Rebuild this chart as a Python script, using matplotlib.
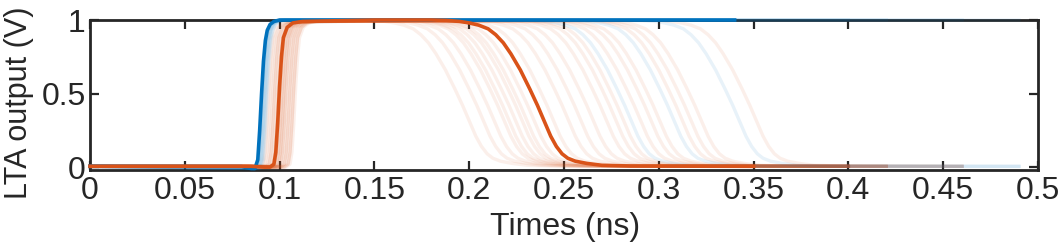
import numpy as np
import matplotlib
matplotlib.use('Agg')
import matplotlib.pyplot as plt

plt.rcParams['font.family'] = ['Liberation Sans', 'DejaVu Sans']

# highlighted blue trace (time in ns, volts)
blue_t = [0.0, 0.080, 0.085, 0.087, 0.0885, 0.0895, 0.0905, 0.0915, 0.0925,
          0.0935, 0.095, 0.097, 0.100, 0.340]
blue_v = [0.005, 0.003, -0.01, -0.01, 0.05, 0.25, 0.50, 0.72, 0.86,
          0.93, 0.97, 0.99, 1.0, 1.0]

# highlighted orange trace
orange_t = [0.0, 0.085, 0.092, 0.095, 0.097, 0.098, 0.099, 0.100, 0.101, 0.102,
            0.104, 0.107, 0.112, 0.150, 0.180, 0.188, 0.195, 0.200, 0.205,
            0.210, 0.214, 0.218, 0.222, 0.227, 0.232, 0.236, 0.240, 0.243,
            0.246, 0.249, 0.252, 0.256, 0.262, 0.270, 0.285, 0.350]
orange_v = [0.005, 0.005, 0.0, 0.0, 0.02, 0.10, 0.30, 0.55, 0.75, 0.88,
            0.95, 0.98, 0.99, 1.0, 1.0, 0.997, 0.99, 0.98, 0.965,
            0.94, 0.90, 0.845, 0.77, 0.66, 0.53, 0.42, 0.30, 0.21,
            0.14, 0.09, 0.06, 0.04, 0.025, 0.012, 0.007, 0.005]

# faint Monte Carlo traces: 50% rise time, 50% fall time, end of trace (ns)
faint_orange_rise = [0.094, 0.096, 0.097, 0.098, 0.099, 0.100, 0.101, 0.102,
                     0.103, 0.104, 0.105, 0.106, 0.107, 0.108, 0.095, 0.097,
                     0.099, 0.101, 0.103, 0.105, 0.107, 0.100, 0.102]
faint_orange_fall = [0.1925, 0.200, 0.2057, 0.211, 0.2136, 0.217, 0.2205, 0.223,
                     0.2268, 0.237, 0.245, 0.2515, 0.258, 0.265, 0.270, 0.274,
                     0.283, 0.2885, 0.293, 0.305, 0.3096, 0.315, 0.344]
faint_orange_end = [0.40, 0.40, 0.42, 0.40, 0.46, 0.40, 0.42, 0.40,
                    0.40, 0.42, 0.40, 0.46, 0.40, 0.42, 0.40, 0.40,
                    0.42, 0.40, 0.46, 0.40, 0.42, 0.40, 0.46]

faint_blue_rise = [0.091, 0.092, 0.093, 0.0915, 0.0925, 0.091, 0.0935]
faint_blue_fall = [0.278, 0.3006, 0.335, np.nan, np.nan, np.nan, np.nan]
faint_blue_end = [0.49, 0.46, 0.49, 0.40, 0.42, 0.46, 0.49]

BLUE = '#0072BD'
ORANGE = '#D95319'
INK = '#262626'


def build_trace(rise_t, rise_v, rise, t50_rise, fall, end):
    # shift the read-off edge shapes so that they cross 0.5 V at rise / fall
    rise_t = np.asarray(rise_t)
    rise_v = np.asarray(rise_v)
    ot = np.asarray(orange_t)
    ov = np.asarray(orange_v)
    rmask = (rise_t > 0.08) & (rise_t < 0.13)
    fmask = (ot > 0.185) & (ot < 0.30)
    ts = [0.0] + list(rise_t[rmask] + (rise - t50_rise))
    vs = [0.005] + list(rise_v[rmask])
    if np.isnan(fall):
        ts.append(end)
        vs.append(1.0)
    else:
        ts += list(ot[fmask] + (fall - 0.232))
        vs += list(ov[fmask])
        ts.append(end)
        vs.append(0.005)
    return ts, vs


fig = plt.figure(figsize=(10.6, 2.5), dpi=100)
ax = fig.add_axes([0.0849, 0.32, 0.8943, 0.60])

for r, f, e in zip(faint_orange_rise, faint_orange_fall, faint_orange_end):
    ts, vs = build_trace(orange_t, orange_v, r, 0.0995, f, e)
    ax.plot(ts, vs, color=ORANGE, alpha=0.09, lw=2.4, zorder=3, clip_on=False)

for r, f, e in zip(faint_blue_rise, faint_blue_fall, faint_blue_end):
    ts, vs = build_trace(blue_t, blue_v, r, 0.0905, f, e)
    ax.plot(ts, vs, color=BLUE, alpha=0.09, lw=2.4, zorder=3, clip_on=False)

ax.plot(blue_t, blue_v, color=BLUE, lw=2.6, zorder=4, clip_on=False)
ax.plot(orange_t, orange_v, color=ORANGE, lw=2.6, zorder=4, clip_on=False)

ax.set_xlim(0, 0.5)
ax.set_ylim(-0.02, 1.0)
ax.set_xticks(np.arange(0, 0.501, 0.05))
ax.set_xticklabels(['0', '0.05', '0.1', '0.15', '0.2', '0.25', '0.3', '0.35',
                    '0.4', '0.45', '0.5'])
ax.set_yticks([0, 0.5, 1])
ax.set_yticklabels(['0', '0.5', '1'])
ax.tick_params(direction='in', length=6.5, width=1.6, labelsize=23,
               top=True, right=True, colors=INK)
ax.tick_params(axis='x', pad=4.5)
ax.tick_params(axis='y', pad=3)
for s in ax.spines.values():
    s.set_linewidth(2.0)
    s.set_color(INK)

ax.set_xlabel('Times (ns)', fontsize=23, color=INK)
ax.set_ylabel('LTA output (V)', fontsize=22, color=INK)
ax.xaxis.set_label_coords(0.501, -0.28)
ax.yaxis.set_label_coords(-0.059, 0.45)

fig.savefig('out.png', dpi=100)
